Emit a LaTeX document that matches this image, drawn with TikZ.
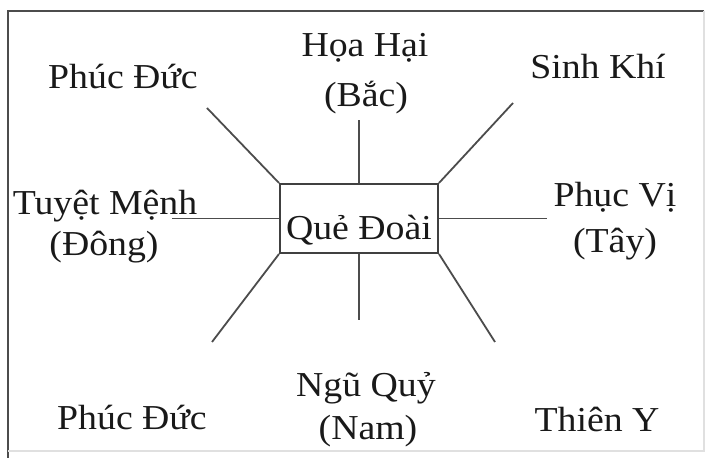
\documentclass[tikz,border=0pt]{standalone}
\usepackage{fontspec}
\setmainfont[FakeStretch=1.08]{Liberation Serif}
\usepackage{tikz}

\begin{document}
\begin{tikzpicture}[x=0.5pt,y=-0.5pt,
  lbl/.style={anchor=base,inner sep=0pt,text=black!90,font=\fontsize{17.5}{21}\selectfont},
  spoke/.style={draw=black!70,line width=0.9pt},
  quebox/.style={lbl,draw=black!75,line width=1pt,text height=28pt,text depth=6.5pt,minimum width=79pt}]
\useasboundingbox (0,0) rectangle (707,458);
% khung
\draw[black!70,line width=1.1pt] (8,458) |- (704,11);
\draw[black!12,line width=0.6pt] (704,11) |- (8,451);
\node[quebox] (que) at (359,240) {Quẻ Đoài};
\foreach \n/\x/\y/\t in %
{phucduc/123/89/Phúc Đức, hoa/365/57/Họa Hại, bac/366/107/(Bắc), sinh/598/79/Sinh Khí,
 tuyet/105/215/Tuyệt Mệnh, dong/104/256/(Đông), phucvi/615/207/Phục Vị, tay/615/253/(Tây),
 ngu/366/397/Ngũ Quỷ, nam/368/440/(Nam), phucduc2/132/430/Phúc Đức, thien/597/432/Thiên Y} {
   \node[lbl] (\n) at (\x,\y) {\t};
}
\foreach \c/\x/\y in {nw/207/108,n/359/120,ne/513/103,w/172/218.5,e/547/218.5,sw/212/342,s/359/320,se/495/342} {
   \coordinate (\c) at (\x,\y);
}
\foreach \a/\b in {north west/nw,north/n,north east/ne,west/w,east/e,south west/sw,south/s,south east/se} {
   \draw[spoke] (que.\a) -- (\b);
}
\end{tikzpicture}
\end{document}
